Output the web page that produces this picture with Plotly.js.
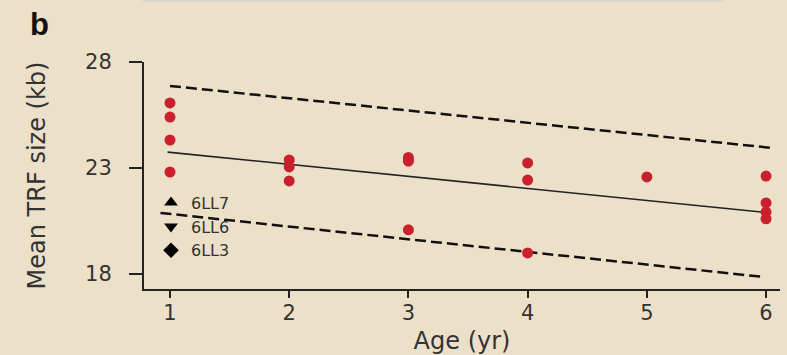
<!DOCTYPE html>
<html>
<head>
<meta charset="utf-8">
<script src="https://cdn.plot.ly/plotly-3.0.1.min.js"></script>
<style>html,body{margin:0;padding:0;background:#EDE0C8;}</style>
</head>
<body>
<div id="chart" style="width:787px;height:355px;"></div>
<script>
// Data points: age (yr) and mean TRF size (kb)
const ages = [1, 1, 1, 1, 2, 2, 2, 3, 3, 3, 4, 4, 4, 5, 6, 6, 6, 6];
const trf  = [26.07, 25.40, 24.32, 22.81, 23.38, 23.05, 22.39, 23.50, 23.32, 20.08, 23.24, 22.43, 18.99, 22.58, 22.62, 21.35, 20.92, 20.60];

// Regression line and bounds (endpoints)
const fitX   = [0.98, 5.96];
const fitY   = [23.75, 20.92];
const upperX = [1.0, 6.06];
const upperY = [26.87, 23.94];
const lowerX = [0.92, 5.975];
const lowerY = [20.88, 17.86];

// Legend labels and symbols
const legendNames   = ['6LL7', '6LL6', '6LL3'];
const legendSymbols = ['triangle-up', 'triangle-down', 'diamond'];

// Axis ticks
const xTicks = [1, 2, 3, 4, 5, 6];
const yTicks = [18, 23, 28];

const FONT = 'DejaVu Sans, Arial, sans-serif';
const TXT = '#333333';

const traces = [
  {x: upperX, y: upperY, mode: 'lines', line: {color: '#111', width: 2.5, dash: '11px,5px'}, showlegend: false, hoverinfo: 'skip'},
  {x: lowerX, y: lowerY, mode: 'lines', line: {color: '#111', width: 2.5, dash: '11px,5px'}, showlegend: false, hoverinfo: 'skip'},
  {x: fitX, y: fitY, mode: 'lines', line: {color: '#222', width: 1.6}, showlegend: false, hoverinfo: 'skip'},
  {x: ages, y: trf, mode: 'markers', marker: {color: '#C8202C', size: 11}, showlegend: false}
];
legendNames.forEach((n, i) => {
  traces.push({x: [null], y: [null], mode: 'markers', name: n,
    marker: {color: '#000', size: 12, symbol: legendSymbols[i]}, showlegend: true});
});

const layout = {
  width: 787, height: 355,
  margin: {l: 144, r: 7, t: 62, b: 66},
  paper_bgcolor: '#EDE0C8',
  plot_bgcolor: '#EDE0C8',
  font: {family: FONT, color: TXT},
  showlegend: true,
  legend: {x: 0.011, xanchor: 'left', y: 0.455, yanchor: 'top', bgcolor: 'rgba(0,0,0,0)',
           font: {family: FONT, size: 16, color: TXT}, tracegroupgap: 0},
  xaxis: {
    range: [0.782, 6.117], tickvals: xTicks, ticktext: xTicks.map(String),
    showgrid: false, zeroline: false, showline: true, linecolor: '#222', linewidth: 2,
    ticks: 'outside', ticklen: 7, tickwidth: 2, tickcolor: '#222',
    ticklabelstandoff: -3,
    tickfont: {family: FONT, size: 21, color: TXT},
    title: {text: 'Age (yr)', font: {family: FONT, size: 24, color: TXT}, standoff: 10}
  },
  yaxis: {
    range: [17.29, 28], tickvals: yTicks, ticktext: yTicks.map(String),
    showgrid: false, zeroline: false, showline: true, linecolor: '#222', linewidth: 2,
    ticks: 'outside', ticklen: 13, tickwidth: 2, tickcolor: '#222',
    ticklabelstandoff: 13,
    tickfont: {family: FONT, size: 21, color: TXT},
    title: {text: 'Mean TRF size (kb)', font: {family: FONT, size: 24, color: TXT}, standoff: 33}
  },
  shapes: [
    {type: 'rect', xref: 'paper', yref: 'paper', x0: -0.002, x1: 0.91, y0: 1.263, y1: 1.28,
     fillcolor: '#D9D6D0', line: {width: 0}}
  ],
  annotations: [
    {text: '<b>b</b>', xref: 'paper', yref: 'paper', x: -0.182, y: 1.167, xanchor: 'left', yanchor: 'middle',
     showarrow: false, font: {family: 'Liberation Sans, Arial, sans-serif', size: 31, color: '#111'}}
  ]
};

Plotly.newPlot('chart', traces, layout, {displayModeBar: false, staticPlot: true});
</script>
</body>
</html>
